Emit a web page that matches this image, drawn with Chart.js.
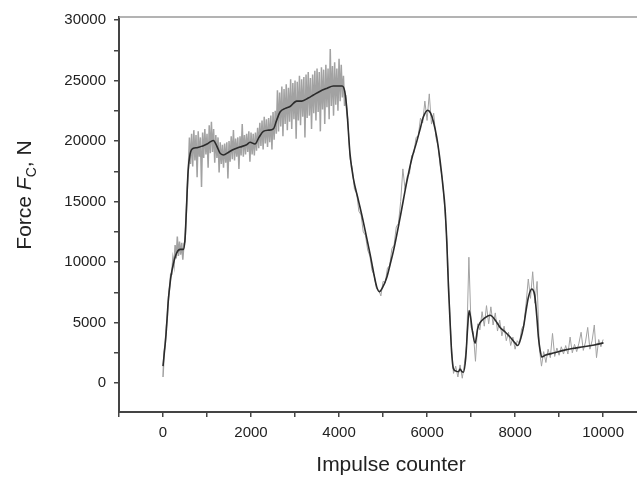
<!DOCTYPE html>
<html>
<head>
<meta charset="utf-8">
<script src="https://cdn.jsdelivr.net/npm/chart.js@4.4.1/dist/chart.umd.min.js"></script>
<style>
html,body{margin:0;padding:0;background:#fff;}
#wrap{width:637px;height:478px;}
</style>
</head>
<body>
<div id="wrap"><canvas id="c" width="637" height="478"></canvas></div>
<script>
// Raw measured force, part A: one value every 25 impulses from 0 to 4200
const rawStepA = 25;
const rawForceA = [
  500, 2600, 3200, 4600, 5500, 7100, 7800, 9000,
  9000, 10300, 9700, 11400, 10300, 12100, 10500, 11700,
  10600, 11600, 10200, 11500, 11700, 13600, 15900, 17600,
  20300, 18100, 20600, 17900, 20900, 18400, 20500, 17000,
  20800, 18700, 20300, 16200, 20700, 18600, 21000, 18900,
  20600, 17800, 21300, 19000, 21600, 19100, 21000, 18200,
  20500, 18600, 20300, 17400, 19900, 18100, 19700, 17800,
  19800, 18200, 19900, 16900, 20000, 18300, 20400, 18500,
  20900, 18400, 20200, 18700, 20300, 17700, 20400, 18800,
  21400, 18700, 20500, 18900, 20600, 19100, 20800, 18300,
  20700, 18900, 20600, 18800, 20700, 19200, 21100, 19400,
  21500, 19600, 21700, 19300, 22000, 19800, 21800, 19500,
  21900, 19900, 22100, 19300, 22400, 20100, 22500, 20600,
  24200, 20800, 24000, 21200, 24500, 20400, 24300, 21400,
  24700, 20900, 24400, 21600, 25100, 21000, 24800, 21800,
  25000, 20200, 24900, 21700, 25400, 21300, 25100, 22000,
  25300, 20300, 25500, 21900, 25700, 22100, 25200, 21000,
  25500, 22300, 25800, 21700, 26000, 22400, 25700, 20800,
  26100, 22600, 25900, 21400, 26300, 22800, 26000, 21800,
  27600, 22900, 26200, 22100, 26500, 23000, 26000, 22500,
  26800, 23300, 26300, 23600, 25400, 22900, 23800, 22400,
  21700
];
// Raw measured force, part B: one value every 50 impulses from 4250 to 10000
const rawStartB = 4250;
const rawStepB = 50;
const rawForceB = [
  18500, 17800, 16000, 15700, 14200, 13900, 12500, 12200, 11000, 10500,
  9300, 8900, 7800, 7700, 7200, 8400, 8300, 9500, 9700, 11100,
  11400, 12900, 13200, 15000, 17700, 16000, 17100, 17300, 18800, 19000,
  20300, 20400, 21900, 21500, 23300, 21700, 23900, 21400, 22300, 20300,
  19600, 17900, 16800, 14500, 11800, 7300, 3200, 800, 1400, 500,
  1500, 400, 1600, 3200, 10400, 4600, 4200, 1800, 4900, 4400,
  5900, 4700, 6400, 4900, 6300, 4800, 5800, 4300, 5200, 3900,
  4700, 3500, 4200, 3100, 3800, 2800, 3500, 3300, 4500, 4800,
  6600, 8600, 7000, 9200, 6600, 8400, 2900, 1400, 2600, 1700,
  2800, 2100, 4100, 2200, 2900, 2300, 3000, 2400, 3100, 2400,
  3800, 2500, 3200, 2600, 3300, 4200, 2700, 3400, 4600, 2800,
  3500, 4800, 2100, 3600, 3000, 3600
];
const rawCounter = rawForceA.map((_, i) => i * rawStepA)
  .concat(rawForceB.map((_, i) => rawStartB + i * rawStepB));
const rawForce = rawForceA.concat(rawForceB);

// Smoothed force curve
const smoothCounter = [
  0, 70, 120, 175, 235, 310, 390, 460, 500, 530, 570, 614, 690, 770, 900, 1000,
  1080, 1144, 1220, 1295, 1370, 1500, 1600, 1750, 1900, 1977, 2090, 2180, 2280, 2400,
  2508, 2580, 2659, 2780, 2886, 3038, 3152, 3300, 3417, 3560, 3720, 3871, 4070, 4130,
  4175, 4250, 4326, 4440, 4553, 4705, 4856, 4916, 4990, 5084, 5160, 5235, 5386,
  5538, 5650, 5765, 5850, 5917, 6015, 6080, 6144, 6220, 6295, 6360, 6409, 6450, 6485,
  6530, 6561, 6598, 6650, 6712, 6750, 6790, 6826, 6879, 6920, 6955, 6990, 7030, 7091,
  7150, 7205, 7300, 7432, 7550, 7659, 7780, 7886, 8000, 8061, 8130, 8189, 8250, 8303,
  8379, 8430, 8455, 8500, 8530, 8570, 8606, 8682, 8900, 9098, 9300, 9553, 9800, 10008
];
const smoothForce = [
  1400, 4100, 6800, 8700, 9850, 10750, 11050, 11050, 11900, 14200, 17500, 18900, 19400, 19450, 19600, 19750,
  19950, 20050, 19600, 19000, 18850, 19100, 19300, 19500, 19700, 19900, 19750, 20300, 20800, 20900,
  21000, 21700, 22400, 22700, 22850, 23300, 23300, 23550, 23800, 24100, 24350, 24550, 24550, 24100,
  22700, 18900, 16900, 15100, 13300, 10650, 7950, 7550, 7900, 8730, 9800, 10900, 13650,
  16600, 18500, 19950, 21100, 22000, 22550, 22300, 21600, 20300, 18400, 16300, 14400, 11500, 8000,
  4500, 2400, 1200, 1000, 930, 1150, 950, 900, 2100, 4500, 5990, 5400, 4300, 3300,
  4500, 5000, 5350, 5600, 5200, 4600, 4200, 3800, 3300, 3100, 3700, 4600, 6000, 7100,
  7770, 7500, 7000, 5200, 3800, 2700, 2150, 2300, 2500, 2700, 2850, 3000, 3150, 3320
];

const xTicks = [-1000, 0, 1000, 2000, 3000, 4000, 5000, 6000, 7000, 8000, 9000, 10000];
const yTicks = [0, 2500, 5000, 7500, 10000, 12500, 15000, 17500, 20000, 22500, 25000, 27500, 30000];
const xTitle = 'Impulse counter';
const yTitleParts = ['Force ', 'F', 'C', ', N'];

const FONT = '"Liberation Sans", Arial, sans-serif';

const decor = {
  id: 'decor',
  afterDraw(chart) {
    const ctx = chart.ctx;
    const a = chart.chartArea;
    ctx.save();
    ctx.strokeStyle = '#9a9a9a';
    ctx.lineWidth = 1.5;
    ctx.beginPath();
    ctx.moveTo(a.left, a.top);
    ctx.lineTo(a.right, a.top);
    ctx.stroke();
    ctx.fillStyle = '#222';
    ctx.font = '21px ' + FONT;
    ctx.textAlign = 'center';
    ctx.textBaseline = 'alphabetic';
    ctx.fillText(xTitle, 391, 471);
    ctx.translate(31, 195);
    ctx.rotate(-Math.PI / 2);
    const fN = '21px ' + FONT, fI = 'italic 21px ' + FONT, fS = '14px ' + FONT;
    ctx.textAlign = 'left';
    ctx.font = fN; const w0 = ctx.measureText(yTitleParts[0]).width;
    ctx.font = fI; const w1 = ctx.measureText(yTitleParts[1]).width;
    ctx.font = fS; const w2 = ctx.measureText(yTitleParts[2]).width;
    ctx.font = fN; const w3 = ctx.measureText(yTitleParts[3]).width;
    let x = -(w0 + w1 + w2 + w3) / 2;
    ctx.font = fN; ctx.fillText(yTitleParts[0], x, 0); x += w0;
    ctx.font = fI; ctx.fillText(yTitleParts[1], x, 0); x += w1;
    ctx.font = fS; ctx.fillText(yTitleParts[2], x, 5); x += w2;
    ctx.font = fN; ctx.fillText(yTitleParts[3], x, 0);
    ctx.restore();
  }
};

new Chart(document.getElementById('c'), {
  type: 'line',
  data: {
    datasets: [
      {
        data: rawCounter.map((x, i) => ({ x, y: rawForce[i] })),
        borderColor: '#a2a2a2',
        borderWidth: 1.5,
        segment: {
          borderWidth: ctx => (ctx.p0.parsed.x >= 4200 ? 1 : 1.5)
        },
        pointRadius: 0,
        tension: 0,
        order: 2
      },
      {
        data: smoothCounter.map((x, i) => ({ x, y: smoothForce[i] })),
        borderColor: '#2b2b2b',
        borderWidth: 1.6,
        pointRadius: 0,
        cubicInterpolationMode: 'monotone',
        order: 1
      }
    ]
  },
  options: {
    responsive: false,
    animation: false,
    devicePixelRatio: 1,
    layout: { padding: { top: 16, right: 0, left: 0, bottom: 0 } },
    plugins: { legend: { display: false }, tooltip: { enabled: false } },
    scales: {
      x: {
        type: 'linear',
        min: -1000,
        max: 10770,
        border: { color: '#444', width: 2 },
        grid: { drawOnChartArea: false, drawTicks: true, tickLength: 5, color: '#444', lineWidth: 1.5 },
        ticks: {
          font: { size: 15, family: FONT }, color: '#222', padding: 7,
          autoSkip: false, maxRotation: 0,
          callback: v => (v >= 0 && v % 2000 === 0) ? String(v) : ''
        },
        afterBuildTicks: s => { s.ticks = xTicks.map(v => ({ value: v })); },
        afterFit: s => { s.height = 66; }
      },
      y: {
        type: 'linear',
        min: -2390,
        max: 30250,
        border: { color: '#444', width: 2 },
        grid: { drawOnChartArea: false, drawTicks: true, tickLength: 5, color: '#444', lineWidth: 1.5 },
        ticks: {
          font: { size: 15, family: FONT }, color: '#222', padding: 8,
          autoSkip: false,
          callback: v => (v % 5000 === 0) ? String(v) : ''
        },
        afterBuildTicks: s => { s.ticks = yTicks.map(v => ({ value: v })); },
        afterFit: s => { s.width = 119; }
      }
    }
  },
  plugins: [decor]
});
</script>
</body>
</html>
